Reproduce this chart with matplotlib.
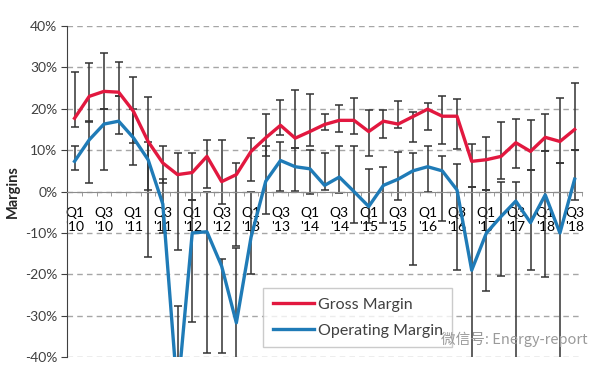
import matplotlib
matplotlib.use("Agg")
import matplotlib.pyplot as plt
import numpy as np

plt.rcParams['font.family'] = ['Lato', 'Noto Sans CJK SC', 'DejaVu Sans']

# quarterly margins (%), Q1 '10 .. Q3 '18
gross = [17.7, 23, 24.2, 24, 19.4, 12.1, 6.9, 4.1, 4.6, 8.5, 2.4, 4.1, 9.7, 13, 16,
         12.9, 14.5, 16.2, 17.2, 17.2, 14.5, 17, 16.3, 18.1, 19.9, 18.2, 18.2, 7.3,
         7.7, 8.5, 11.8, 9.7, 13.1, 12.1, 15]
gross_low = [15.6, 16.9, 20, 23.2, 11.7, 0.5, 2, -14, -2, 0.8, -3, -13.1, 2.6, 8.5,
             13.7, 10.6, 10.9, 14.9, 14.5, 14, 8.7, 12.9, 15.3, 11.9, 14.8, 11.4,
             10.4, 1, 0.5, 3.1, 5.8, 5.3, 9.8, 7, 10]
gross_high = [28.8, 31.1, 33.5, 31.3, 27.6, 22.8, 11.1, 9.4, 9.3, 12.5, 12.5, 6.9,
              12.9, 18.7, 22.2, 24.6, 23.6, 18.7, 21, 22.7, 19.8, 19.8, 21.8, 19.2,
              21.5, 23, 22.3, 11.6, 13.3, 16.7, 17.6, 17.3, 18.8, 22.6, 26.2]

operating = [7.3, 12.5, 16.3, 17, 13, 7.7, -3, -49, -10, -9.7, -18, -31.7, -11, 2.5,
             7.5, 6, 5.5, 1.5, 3.5, 0, -3.6, 1.5, 3, 5, 6, 5, 0.4, -19, -10, -6,
             -2.3, -7.5, -0.8, -10, 3]
operating_low = [5.2, 2, 5.3, 13.8, 6.3, -15.7, -10, -60, -31.5, -39, -39, -45,
                 -19.9, -5.4, 0.2, 0.2, -0.5, 0.5, -0.4, -7.5, -7.5, -7.5, -2, -17.8,
                 0, -7, -18.9, -45, -24, -20.5, -45, -19, -20.6, -45, -2]
operating_high = [11.1, 17, 20, 23, 20, 12, 3, -27.7, -2, 0, -16.4, -13.7, 0, 11,
                  12, 10.6, 10, 9.2, 11, 10.9, 5.5, 6, 9.5, 9.3, 10.9, 8.5, 6.7, 1,
                  0.5, 2.2, 2.4, 5.3, 9.8, 7, 10]

tick_labels = ["Q1\n'10", "Q3\n'10", "Q1\n'11", "Q3\n'11", "Q1\n'12", "Q3\n'12",
               "Q1\n'13", "Q3\n'13", "Q1\n'14", "Q3\n'14", "Q1\n'15", "Q3\n'15",
               "Q1\n'16", "Q3\n'16", "Q1\n'17", "Q3\n'17", "Q1\n'18", "Q3\n'18"]

gross = np.array(gross)
operating = np.array(operating)
x = np.arange(len(gross))

fig = plt.figure(figsize=(6, 3.76), dpi=100)
ax = fig.add_axes([0.112, 0.05, 0.858, 0.881])

bar_color = '#333333'
ax.errorbar(x, gross, yerr=[gross - np.array(gross_low), np.array(gross_high) - gross],
            fmt='none', ecolor=bar_color, elinewidth=1.1, capsize=3, capthick=1.1, zorder=2)
ax.errorbar(x, operating,
            yerr=[operating - np.array(operating_low), np.array(operating_high) - operating],
            fmt='none', ecolor=bar_color, elinewidth=1.1, capsize=3, capthick=1.1, zorder=2)

ax.plot(x, gross, color='#E2183F', lw=2.4, label='Gross Margin', zorder=3)
ax.plot(x, operating, color='#1F7BB7', lw=2.4, label='Operating Margin', zorder=3)

ax.set_xlim(-0.5, len(x) - 0.5)
ax.set_ylim(-40, 40)

yt = np.arange(-40, 41, 10)
ax.set_yticks(yt)
ax.set_yticklabels([f"{v}%" for v in yt], color='#404040', fontsize=10)
ax.yaxis.grid(True, linestyle=(0, (4, 3)), color='#a6a6a6', lw=1)
ax.set_axisbelow(True)
ax.tick_params(axis='y', length=4, color='#404040', pad=3)

ax.set_xticks(x[::2])
ax.set_xticklabels(tick_labels, color='#595959', fontsize=10, linespacing=1.45)
ax.set_xticks(np.arange(-0.5, len(x), 1), minor=True)
ax.tick_params(axis='x', which='major', length=0, pad=11)
ax.tick_params(axis='x', which='minor', length=3, color='#8c8c8c', direction='out')

for side in ['top', 'right']:
    ax.spines[side].set_visible(False)
ax.spines['bottom'].set_position(('data', 0))
ax.spines['bottom'].set_color('#8c8c8c')
ax.spines['left'].set_color('#404040')

ax.set_ylabel('Margins', fontsize=10.5, fontweight='bold', color='#262626', labelpad=4)

leg = ax.legend(loc='lower left', bbox_to_anchor=(0.381, 0.03), fontsize=11.5,
                frameon=True, fancybox=False, edgecolor='#bfbfbf', borderaxespad=0,
                handlelength=2.6, labelspacing=0.75, borderpad=0.6, handletextpad=0.2)
leg.get_frame().set_linewidth(1)
for t in leg.get_texts():
    t.set_color('#404040')

fig.text(0.735, 0.085, '微信号: Energy-report', fontsize=10.5, color='#9a9a9a',
         family=['Noto Sans CJK SC', 'DejaVu Sans'])

fig.savefig('out.png', dpi=100)
